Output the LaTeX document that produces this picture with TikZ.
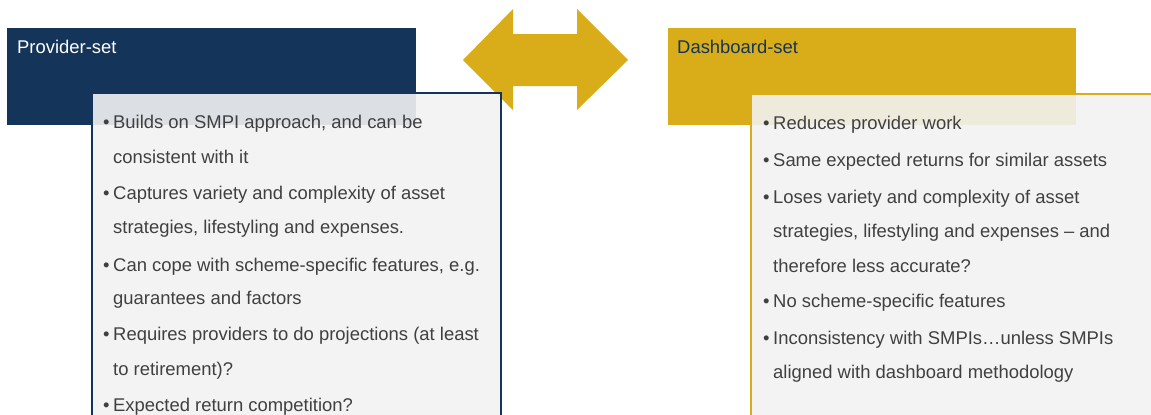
\documentclass[tikz,border=0pt]{standalone}
\usepackage{fontspec}
\setmainfont{Liberation Sans}
\definecolor{navy}{HTML}{143459}
\definecolor{gold}{HTML}{D9AC19}
\definecolor{bodyfill}{HTML}{F2F2F2}
\definecolor{txt}{HTML}{404040}
\begin{document}
\begin{tikzpicture}[x=1bp,y=-1bp,
  hdr/.style={anchor=north west, minimum width=#1, minimum height=97bp, inner sep=0},
  bodybox/.style={fill=bodyfill, fill opacity=0.9, draw=#1, line width=2bp},
  ln/.style={anchor=base west, inner sep=0, text=txt, font=\fontsize{18.5}{22}\selectfont},
  htext/.style={anchor=base west, inner sep=0, font=\fontsize{18.5}{22}\selectfont}]
\useasboundingbox (0,0) rectangle (1151,414);
\clip (0,0) rectangle (1151,414);
% arrow
\fill[gold] (463,60) -- (513,9) -- (513,34) -- (577,34) -- (577,9) -- (628,60)
  -- (577,110) -- (577,86) -- (513,86) -- (513,110) -- cycle;
% left
\node[hdr=409bp, fill=navy] (lh) at (7,28) {};
\node[htext, text=white] (lht) at (17,53) {Provider-set};
\draw[bodybox=navy] (92,93) rectangle (501,440);
\node[ln] (l1b) at (103,128) {•};
\node[ln] (l1a) at (113,128) {Builds on SMPI approach, and can be};
\node[ln] (l1c) at (113,163) {consistent with it};
\node[ln] (l2b) at (103,199) {•};
\node[ln] (l2a) at (113,199) {Captures variety and complexity of asset};
\node[ln] (l2c) at (113,233) {strategies, lifestyling and expenses.};
\node[ln] (l3b) at (103,271) {•};
\node[ln] (l3a) at (113,271) {Can cope with scheme-specific features, e.g.};
\node[ln] (l3c) at (113,304) {guarantees and factors};
\node[ln] (l4b) at (103,340) {•};
\node[ln] (l4a) at (113,340) {Requires providers to do projections (at least};
\node[ln] (l4c) at (113,375) {to retirement)?};
\node[ln] (l5b) at (103,411) {•};
\node[ln] (l5a) at (113,411) {Expected return competition?};
% right
\node[hdr=408bp, fill=gold] (rh) at (668,28) {};
\node[htext, text=navy] (rht) at (677,53) {Dashboard-set};
\draw[bodybox=gold] (751,94) rectangle (1170,440);
\node[ln] (r1b) at (763,129) {•};
\node[ln] (r1a) at (773,129) {Reduces provider work};
\node[ln] (r2b) at (763,166) {•};
\node[ln] (r2a) at (773,166) {Same expected returns for similar assets};
\node[ln] (r3b) at (763,203) {•};
\node[ln] (r3a) at (773,203) {Loses variety and complexity of asset};
\node[ln] (r3c) at (773,237) {strategies, lifestyling and expenses -- and};
\node[ln] (r3d) at (773,272) {therefore less accurate?};
\node[ln] (r4b) at (763,307) {•};
\node[ln] (r4a) at (773,307) {No scheme-specific features};
\node[ln] (r5b) at (763,344) {•};
\node[ln] (r5a) at (773,344) {Inconsistency with SMPIs…unless SMPIs};
\node[ln] (r5c) at (773,378) {aligned with dashboard methodology};
\end{tikzpicture}
\end{document}
